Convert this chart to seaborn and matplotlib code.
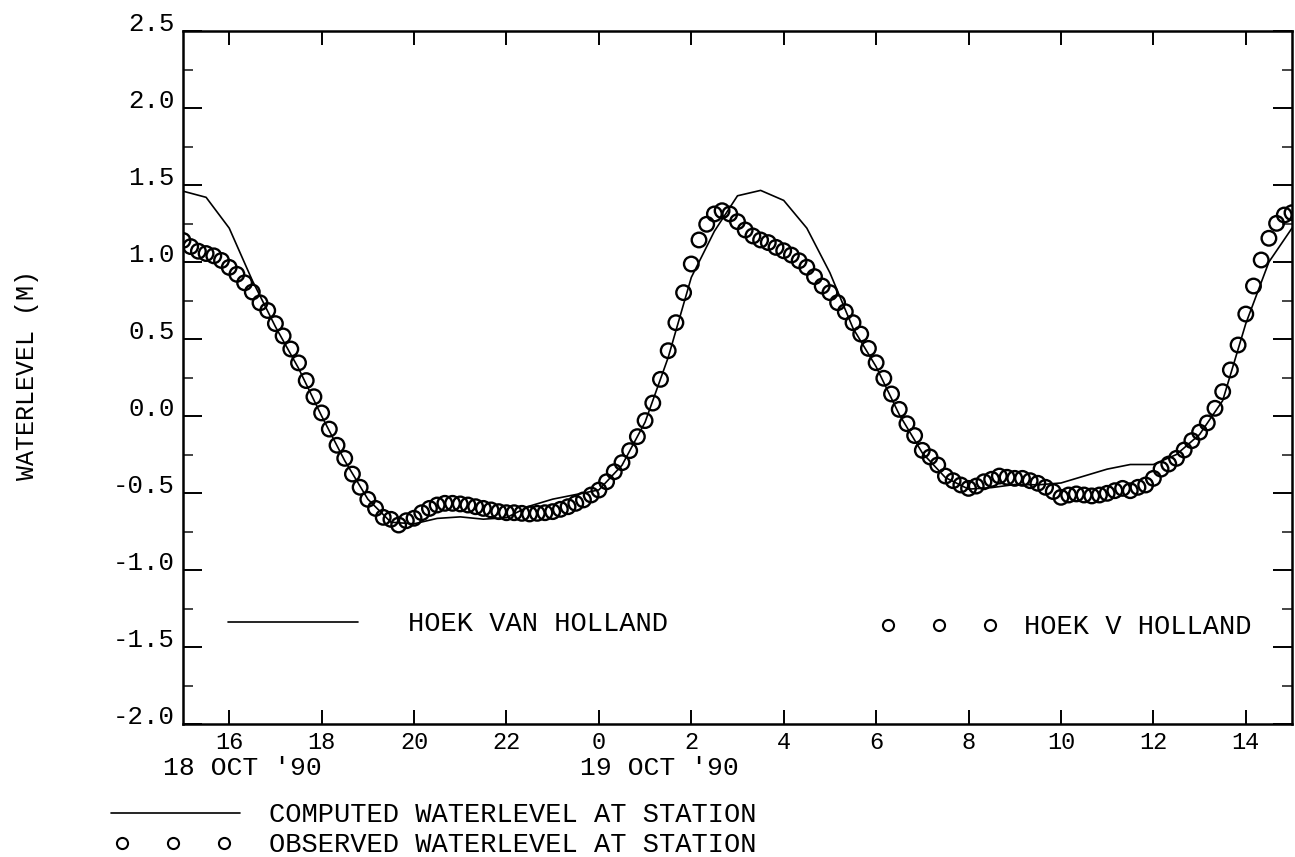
import numpy as np
import pandas as pd
import matplotlib
matplotlib.use("Agg")
import matplotlib.pyplot as plt
from matplotlib.lines import Line2D
from matplotlib.ticker import MultipleLocator
import seaborn as sns

# ---------------- data (hours counted from 00:00 on 18 Oct '90) ----------------
obs_start = 15.0          # first observation 18 Oct 15:00
obs_step_h = 1.0 / 6.0    # observations every 10 minutes
observed = [
    1.14, 1.10, 1.07, 1.055, 1.04, 1.01, 0.965, 0.92, 0.865, 0.805,
    0.735, 0.685, 0.60, 0.52, 0.435, 0.345, 0.23, 0.125, 0.02, -0.085,
    -0.19, -0.275, -0.377, -0.463, -0.541, -0.600, -0.658, -0.671, -0.708, -0.680,
    -0.664, -0.628, -0.600, -0.578, -0.567, -0.567, -0.571, -0.578, -0.589, -0.600,
    -0.610, -0.621, -0.628, -0.628, -0.632, -0.636, -0.632, -0.628, -0.621, -0.606,
    -0.589, -0.567, -0.545, -0.513, -0.481, -0.427, -0.362, -0.303, -0.225, -0.134,
    -0.030, 0.084, 0.238, 0.424, 0.606, 0.801, 0.987, 1.143, 1.245, 1.312,
    1.333, 1.312, 1.262, 1.208, 1.169, 1.143, 1.126, 1.095, 1.073, 1.045,
    1.008, 0.966, 0.905, 0.844, 0.801, 0.736, 0.677, 0.606, 0.532, 0.439,
    0.346, 0.245, 0.143, 0.043, -0.05, -0.127, -0.223, -0.266, -0.318, -0.39,
    -0.420, -0.448, -0.470, -0.455, -0.427, -0.411, -0.39, -0.398, -0.405, -0.405,
    -0.42, -0.437, -0.463, -0.491, -0.528, -0.513, -0.506, -0.513, -0.519, -0.513,
    -0.502, -0.485, -0.470, -0.485, -0.463, -0.448, -0.405, -0.345, -0.312, -0.275,
    -0.221, -0.16, -0.105, -0.045, 0.05, 0.158, 0.299, 0.461, 0.662, 0.844,
    1.013, 1.154, 1.251, 1.305, 1.32,
]

comp_start = 15.0         # computed series every 30 minutes
comp_step_h = 0.5
computed = [
    1.46, 1.42, 1.22, 0.88, 0.58, 0.31, 0.0, -0.29, -0.54, -0.69,
    -0.70, -0.665, -0.655, -0.67, -0.66, -0.585, -0.54, -0.51, -0.48, -0.32,
    -0.04, 0.38, 0.90, 1.20, 1.43, 1.465, 1.40, 1.22, 0.93, 0.57,
    0.32, 0.01, -0.24, -0.40, -0.475, -0.465, -0.445, -0.447, -0.435, -0.39,
    -0.345, -0.315, -0.315, -0.25, -0.12, 0.10, 0.60, 1.00, 1.22,
]

x_ticks = [16, 18, 20, 22, 24, 26, 28, 30, 32, 34, 36, 38]
x_ticklabels = ["16", "18", "20", "22", "0", "2", "4", "6", "8", "10", "12", "14"]
y_ticks = [-2.0, -1.5, -1.0, -0.5, 0.0, 0.5, 1.0, 1.5, 2.0, 2.5]
y_ticklabels = ["-2.0", "-1.5", "-1.0", "-0.5", "0.0", "0.5", "1.0", "1.5", "2.0", "2.5"]

day_labels = ["18 OCT '90", "19 OCT '90"]
y_title = "WATERLEVEL (M)"
inplot_labels = ["HOEK VAN HOLLAND", "HOEK V HOLLAND"]
bottom_labels = ["COMPUTED WATERLEVEL AT STATION", "OBSERVED WATERLEVEL AT STATION"]

# ---------------- figure ----------------
sns.set_theme(style="white")
plt.rcParams["font.family"] = ["Liberation Mono", "DejaVu Sans Mono"]
plt.rcParams["text.color"] = "black"

W, H = 1295, 857
fig = plt.figure(figsize=(W / 100, H / 100), dpi=100)
fig.patch.set_facecolor("white")
ax = fig.add_axes([183 / W, 1 - 724 / H, (1292 - 183) / W, (724 - 31) / H])
ax.set_facecolor("white")

df_obs = pd.DataFrame({
    "hour": obs_start + np.arange(len(observed)) * obs_step_h,
    "level": observed,
})
df_comp = pd.DataFrame({
    "hour": comp_start + np.arange(len(computed)) * comp_step_h,
    "level": computed,
})

sns.lineplot(data=df_comp, x="hour", y="level", ax=ax, color="black",
             linewidth=1.2, zorder=2)
sns.scatterplot(data=df_obs, x="hour", y="level", ax=ax, marker="o", s=110,
                zorder=3)
coll = ax.collections[-1]
coll.set_facecolor("none")
coll.set_edgecolor("black")
coll.set_linewidth(1.7)

ax.set_xlim(15.0, 39.0)
ax.set_ylim(-2.0, 2.5)
ax.set_xlabel("")
ax.set_ylabel("")

ax.set_xticks(x_ticks)
ax.set_xticklabels(x_ticklabels)
ax.set_yticks(y_ticks)
ax.set_yticklabels(y_ticklabels)
ax.yaxis.set_minor_locator(MultipleLocator(0.25))

ax.tick_params(axis="x", which="major", direction="in", length=10, width=1.4,
               top=True, bottom=True, pad=5, labelsize=17, colors="black")
ax.tick_params(axis="y", which="major", direction="in", length=14, width=1.4,
               left=True, right=True, pad=6, labelsize=18.5, colors="black")
ax.tick_params(axis="y", which="minor", direction="in", length=7, width=1.2,
               left=True, right=True)
for lbl in ax.get_yticklabels():
    lbl.set_va("baseline")

for sp in ax.spines.values():
    sp.set_visible(True)
    sp.set_color("black")
    sp.set_linewidth(1.8)
ax.grid(False)

# day labels under the hour ticks
fig.text(322 / W, 1 - 768 / H, day_labels[0], ha="right", va="center",
         fontsize=19)
fig.text(580 / W, 1 - 768 / H, day_labels[1], ha="left", va="center",
         fontsize=19)

# y title
fig.text(27 / W, 1 - 375 / H, y_title, rotation=90, ha="center", va="center",
         fontsize=18)

# legend handles (no coordinates, style only)
h_line = Line2D([], [], color="black", linewidth=1.2)
h_circ = Line2D([], [], linestyle="none", marker="o", markersize=8,
                markerfacecolor="none", markeredgecolor="black",
                markeredgewidth=1.5)


def place_legend(handle, label, x_px, y_px, hlen, tpad, fs, npts):
    leg = fig.legend([handle], [label], loc="center left",
                     bbox_to_anchor=(x_px / W, 1 - y_px / H),
                     bbox_transform=fig.transFigure, frameon=False,
                     borderpad=0, borderaxespad=0, handlelength=hlen,
                     handletextpad=tpad, fontsize=fs, numpoints=npts)
    return leg


place_legend(h_line, inplot_labels[0], 228, 624, 4.8, 1.85, 19.5, 1)
place_legend(h_circ, inplot_labels[1], 880, 627, 4.37, 0.93, 19.5, 3)
place_legend(h_line, bottom_labels[0], 111, 815, 4.75, 1.1, 19.5, 1)
place_legend(h_circ, bottom_labels[1], 114, 845, 4.37, 1.37, 19.5, 3)

fig.savefig("out.png", dpi=100, facecolor="white")
